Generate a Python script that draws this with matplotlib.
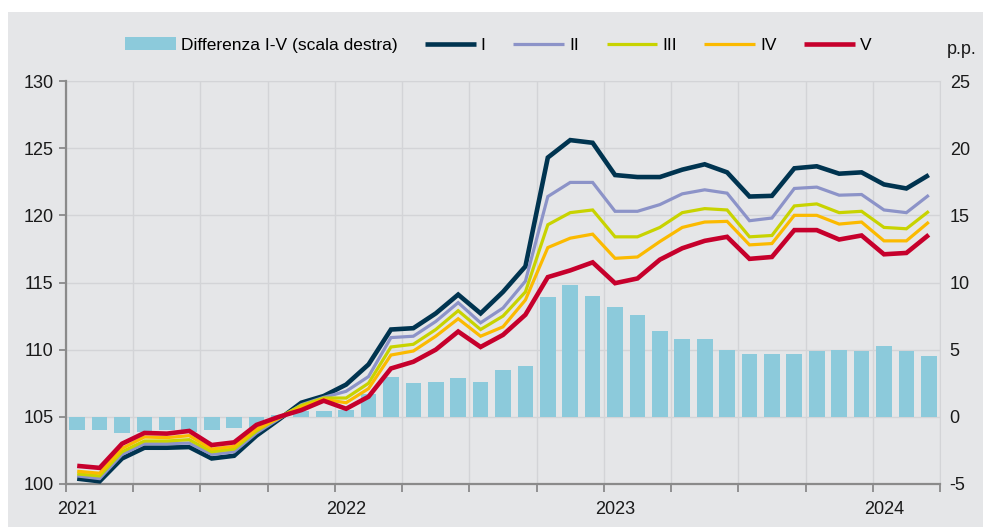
import numpy as np
import matplotlib.pyplot as plt
from matplotlib.patches import Rectangle

plt.rcParams['font.family'] = ['Liberation Sans', 'DejaVu Sans']
plt.rcParams['axes.unicode_minus'] = False

# monthly data, Jan 2021 - Mar 2024
months = np.arange(39)
years = ['2021', '2022', '2023', '2024']

diff_iv = [-1.0, -1.0, -1.2, -1.1, -1.0, -1.1, -1.0, -0.85, -0.9, 0.1,
           0.4, 0.4, 0.5, 1.7, 3.0, 2.5, 2.6, 2.9, 2.6, 3.5,
           3.8, 8.9, 9.8, 9.0, 8.2, 7.6, 6.4, 5.8, 5.8, 5.0,
           4.7, 4.7, 4.7, 4.9, 5.0, 4.9, 5.3, 4.9, 4.5]

q1 = [100.4, 100.2, 101.9, 102.7, 102.7, 102.75, 101.9, 102.1, 103.6, 104.8,
      106.05, 106.55, 107.4, 108.9, 111.5, 111.6, 112.7, 114.1, 112.7, 114.3,
      116.2, 124.3, 125.6, 125.4, 123.0, 122.85, 122.85, 123.4, 123.8, 123.2,
      121.4, 121.45, 123.5, 123.65, 123.1, 123.2, 122.3, 122.0, 123.0]
q2 = [100.6, 100.4, 102.2, 103.0, 103.0, 103.05, 102.2, 102.4, 103.8, 104.85,
      105.9, 106.45, 106.9, 108.0, 110.9, 111.0, 112.1, 113.5, 112.0, 113.1,
      115.1, 121.4, 122.45, 122.45, 120.3, 120.3, 120.8, 121.6, 121.9, 121.65,
      119.6, 119.8, 122.0, 122.1, 121.5, 121.55, 120.4, 120.2, 121.5]
q3 = [100.75, 100.6, 102.4, 103.2, 103.2, 103.3, 102.4, 102.6, 103.95, 104.95,
      105.85, 106.4, 106.4, 107.5, 110.2, 110.4, 111.5, 112.9, 111.5, 112.5,
      114.3, 119.3, 120.2, 120.4, 118.4, 118.4, 119.1, 120.2, 120.5, 120.4,
      118.4, 118.5, 120.7, 120.85, 120.2, 120.3, 119.1, 119.0, 120.3]
q4 = [100.95, 100.8, 102.65, 103.5, 103.45, 103.6, 102.6, 102.8, 104.1, 104.9,
      105.7, 106.3, 106.05, 107.1, 109.6, 109.9, 111.0, 112.3, 111.0, 111.7,
      113.7, 117.6, 118.3, 118.6, 116.8, 116.9, 118.05, 119.1, 119.5, 119.55,
      117.8, 117.9, 120.0, 120.0, 119.35, 119.5, 118.1, 118.1, 119.5]
q5 = [101.35, 101.2, 103.0, 103.8, 103.75, 103.95, 102.9, 103.1, 104.4, 105.0,
      105.5, 106.2, 105.6, 106.5, 108.6, 109.1, 110.0, 111.35, 110.2, 111.1,
      112.6, 115.4, 115.9, 116.5, 114.95, 115.3, 116.7, 117.55, 118.1, 118.4,
      116.76, 116.9, 118.9, 118.9, 118.2, 118.5, 117.1, 117.2, 118.55]

series = [('I', q1, '#003450', 3.3), ('II', q2, '#8c93c8', 2.3),
          ('III', q3, '#c8d300', 2.3), ('IV', q4, '#fbba00', 2.3),
          ('V', q5, '#c6002c', 3.3)]

bg = '#e5e6e8'
grid_c = '#d3d4d7'
axis_c = '#8a8a8a'

fig = plt.figure(figsize=(9.83, 5.27), dpi=100)
fig.add_artist(Rectangle((8 / 983, 0), 1, 1 - 12 / 527, transform=fig.transFigure,
                         facecolor=bg, edgecolor='none', zorder=-10))

ax = fig.add_axes([66 / 983, 43 / 527, 874 / 983, 403 / 527])
ax.patch.set_visible(False)
ax.set_axisbelow(True)
ax2 = ax.twinx()

# bars on the right scale
ax.bar(months + 0.5, diff_iv, width=0.7, color='#8ccadb', zorder=2,
       label='Differenza I-V (scala destra)')
ax.set_ylim(-5, 25)
ax.set_yticks(range(-5, 30, 5))
ax.yaxis.tick_right()
ax.yaxis.set_label_position('right')
ax.set_xlim(0, 39)
ax.set_xticks(range(0, 40, 3))
ax.set_xticklabels([])
ax.set_xticks([0.5, 12.5, 24.5, 36.5], minor=True)
ax.set_xticklabels(years, minor=True)
ax.grid(True, which='major', color=grid_c, lw=1.0)

ax.tick_params(axis='y', length=0, pad=7, labelsize=13, labelcolor='#1a1a1a')
ax.tick_params(axis='x', which='major', length=6, width=1.3, color=axis_c)
ax.tick_params(axis='x', which='minor', length=0, pad=12, labelsize=13, labelcolor='#1a1a1a')
ax.spines['left'].set_visible(False)
ax.spines['top'].set_color(grid_c)
ax.spines['right'].set_color(grid_c)
ax.spines['bottom'].set_color(axis_c)
ax.spines['bottom'].set_linewidth(1.6)

# lines on the left scale
for name, vals, col, lw in series:
    ax2.plot(months + 0.5, vals, color=col, lw=lw, label=name,
             solid_joinstyle='miter', solid_capstyle='butt')
ax2.set_ylim(100, 130)
ax2.set_yticks(range(100, 135, 5))
ax2.yaxis.tick_left()
ax2.yaxis.set_label_position('left')
ax2.tick_params(axis='y', length=5, width=1.3, color=axis_c, pad=4,
                labelsize=13, labelcolor='#1a1a1a')
for s in ['top', 'right', 'bottom']:
    ax2.spines[s].set_visible(False)
ax2.spines['left'].set_color(axis_c)
ax2.spines['left'].set_linewidth(1.6)

h1, l1 = ax.get_legend_handles_labels()
h2, l2 = ax2.get_legend_handles_labels()
fig.legend(h1 + h2, l1 + l2, loc='center', bbox_to_anchor=(0.507, 1 - 45 / 527),
           ncol=6, frameon=False, fontsize=12.5, handlelength=2.9,
           handletextpad=0.3, columnspacing=1.6)

fig.text(947 / 983, 1 - 49 / 527, 'p.p.', ha='left', va='center', fontsize=13,
         color='#1a1a1a')

fig.savefig('out.png', dpi=100)
